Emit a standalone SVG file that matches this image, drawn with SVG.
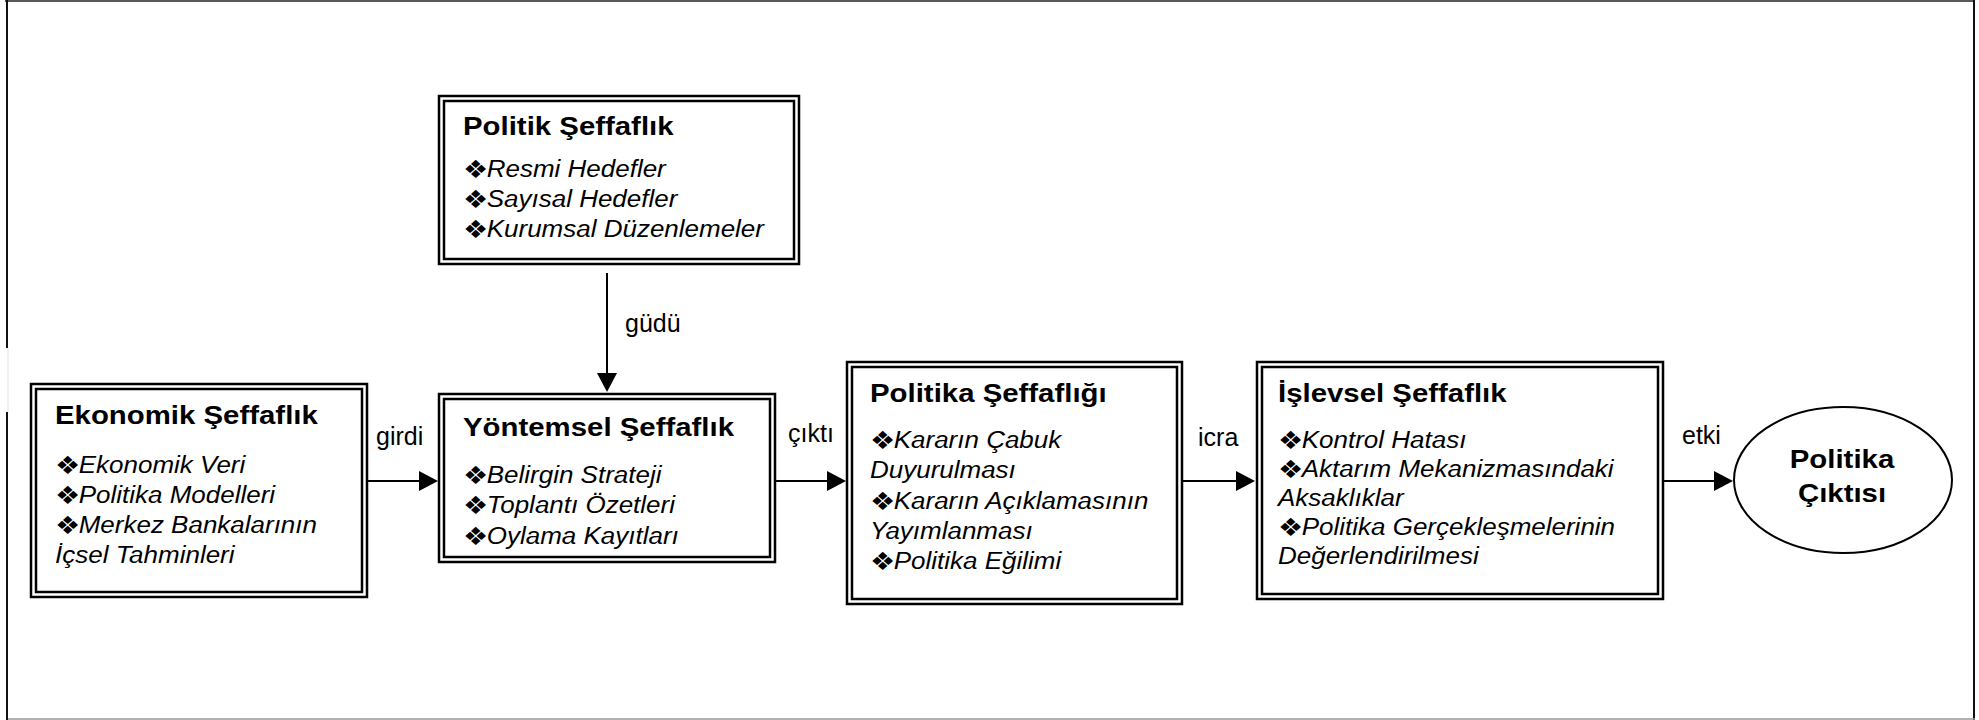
<svg xmlns="http://www.w3.org/2000/svg" width="1979" height="720" viewBox="0 0 1979 720">
<defs>
<marker id="ah" markerUnits="userSpaceOnUse" markerWidth="19" markerHeight="20" refX="0" refY="10" orient="auto">
<path d="M0,0 L19,10 L0,20 Z" fill="#000"/>
</marker>
<style>
.o{fill:#fff;stroke:#000;stroke-width:2.5}
.i{fill:none;stroke:#000;stroke-width:2.5}
.t{font-family:"Liberation Sans",Arial,sans-serif;font-weight:bold;font-size:26px;fill:#000}
.it{font-family:"Liberation Sans",Arial,sans-serif;font-style:italic;font-size:23px;fill:#000}
.b{font-family:"DejaVu Sans",sans-serif;font-size:25px;fill:#000}
.lb{font-family:"Liberation Sans",Arial,sans-serif;font-size:25px;fill:#000}
.c{stroke:#000;stroke-width:2;fill:none;marker-end:url(#ah)}
</style>
</defs>
<rect x="0" y="0" width="1979" height="720" fill="#fff"/>
<g id="frame">
<line x1="5" y1="1" x2="1975" y2="1" stroke="#222" stroke-width="1.5"/>
<line x1="1974" y1="0" x2="1974" y2="720" stroke="#111" stroke-width="2"/>
<line x1="6" y1="719" x2="1975" y2="719" stroke="#999" stroke-width="1.5"/>
<line x1="7" y1="0" x2="7" y2="348" stroke="#111" stroke-width="2"/>
<line x1="8" y1="348" x2="8" y2="412" stroke="#e4e4e4" stroke-width="1"/>
<line x1="7" y1="412" x2="7" y2="720" stroke="#111" stroke-width="2"/>
</g>
<g id="connectors">
<line class="c" x1="607" y1="273" x2="607" y2="373"/>
<text class="lb" x="625" y="332">güdü</text>
<line class="c" x1="368" y1="481" x2="419" y2="481"/>
<text class="lb" x="376" y="445">girdi</text>
<line class="c" x1="776" y1="481" x2="827" y2="481"/>
<text class="lb" x="788" y="442">çıktı</text>
<line class="c" x1="1183" y1="481" x2="1236" y2="481"/>
<text class="lb" x="1198" y="446">icra</text>
<line class="c" x1="1664" y1="481" x2="1714" y2="481"/>
<text class="lb" x="1682" y="444">etki</text>
</g>
<g id="politik">
<rect class="o" x="439" y="96" width="360" height="168"/>
<rect class="i" x="444" y="101" width="350" height="158"/>
<g transform="translate(463,0) scale(1.13,1)">
<text class="t" x="0" y="135">Politik Şeffaflık</text>
<text class="b" x="0" y="178">❖</text><text class="it" x="21" y="177">Resmi Hedefler</text>
<text class="b" x="0" y="208">❖</text><text class="it" x="21" y="207">Sayısal Hedefler</text>
<text class="b" x="0" y="238">❖</text><text class="it" x="21" y="237">Kurumsal Düzenlemeler</text>
</g>
</g>
<g id="ekonomik">
<rect class="o" x="31" y="384" width="336" height="213"/>
<rect class="i" x="36" y="389" width="326" height="203"/>
<g transform="translate(55,0) scale(1.13,1)">
<text class="t" x="0" y="424">Ekonomik Şeffaflık</text>
<text class="b" x="0" y="474">❖</text><text class="it" x="21" y="473">Ekonomik Veri</text>
<text class="b" x="0" y="504">❖</text><text class="it" x="21" y="503">Politika Modelleri</text>
<text class="b" x="0" y="534">❖</text><text class="it" x="21" y="533">Merkez Bankalarının</text>
<text class="it" x="0" y="563">İçsel Tahminleri</text>
</g>
</g>
<g id="yontemsel">
<rect class="o" x="439" y="394" width="336" height="168"/>
<rect class="i" x="444" y="399" width="326" height="158"/>
<g transform="translate(463,0) scale(1.13,1)">
<text class="t" x="0" y="436">Yöntemsel Şeffaflık</text>
<text class="b" x="0" y="484">❖</text><text class="it" x="21" y="483">Belirgin Strateji</text>
<text class="b" x="0" y="514">❖</text><text class="it" x="21" y="513">Toplantı Özetleri</text>
<text class="b" x="0" y="545">❖</text><text class="it" x="21" y="544">Oylama Kayıtları</text>
</g>
</g>
<g id="politika-seffafligi">
<rect class="o" x="847" y="362" width="335" height="242"/>
<rect class="i" x="852" y="367" width="325" height="232"/>
<g transform="translate(870,0) scale(1.13,1)">
<text class="t" x="0" y="402">Politika Şeffaflığı</text>
<text class="b" x="0" y="449">❖</text><text class="it" x="21" y="448">Kararın Çabuk</text>
<text class="it" x="0" y="478">Duyurulması</text>
<text class="b" x="0" y="510">❖</text><text class="it" x="21" y="509">Kararın Açıklamasının</text>
<text class="it" x="0" y="539">Yayımlanması</text>
<text class="b" x="0" y="570">❖</text><text class="it" x="21" y="569">Politika Eğilimi</text>
</g>
</g>
<g id="islevsel">
<rect class="o" x="1257" y="362" width="406" height="237"/>
<rect class="i" x="1262" y="367" width="396" height="227"/>
<g transform="translate(1278,0) scale(1.13,1)">
<text class="t" x="0" y="402">İşlevsel Şeffaflık</text>
<text class="b" x="0" y="449">❖</text><text class="it" x="21" y="448">Kontrol Hatası</text>
<text class="b" x="0" y="478">❖</text><text class="it" x="21" y="477">Aktarım Mekanizmasındaki</text>
<text class="it" x="0" y="506">Aksaklıklar</text>
<text class="b" x="0" y="536">❖</text><text class="it" x="21" y="535">Politika Gerçekleşmelerinin</text>
<text class="it" x="0" y="564">Değerlendirilmesi</text>
</g>
</g>
<g id="politika-ciktisi">
<ellipse cx="1843" cy="480" rx="109" ry="73" fill="#fff" stroke="#000" stroke-width="2"/>
<g transform="translate(1842,0) scale(1.13,1)">
<text class="t" x="0" y="468" text-anchor="middle">Politika</text>
<text class="t" x="0" y="502" text-anchor="middle">Çıktısı</text>
</g>
</g>
</svg>
